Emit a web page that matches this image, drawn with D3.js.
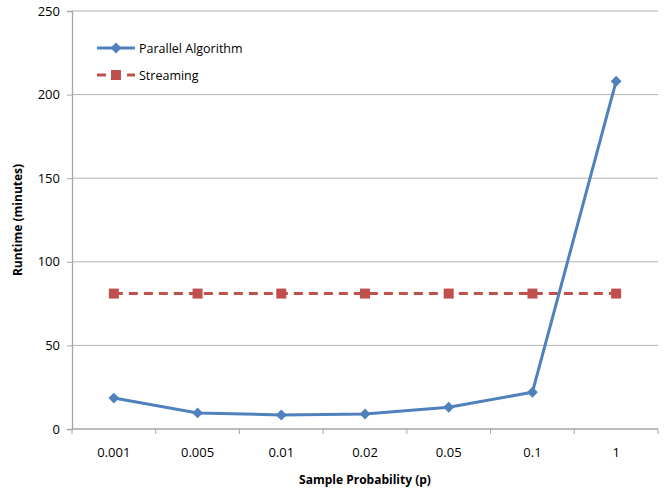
<!DOCTYPE html>
<html>
<head>
<meta charset="utf-8">
<script src="https://cdn.jsdelivr.net/npm/d3@7"></script>
<style>
  body { margin: 0; background: #fff; }
  text { font-family: "Open Sans", "Noto Sans", sans-serif; fill: #000; }
</style>
</head>
<body>
<div id="chart"></div>
<script>
const categories = ['0.001', '0.005', '0.01', '0.02', '0.05', '0.1', '1'];
const parallel = [18.5, 9.6, 8.4, 9, 13, 22, 208];
const streaming = [81, 81, 81, 81, 81, 81, 81];
const yTicks = [0, 50, 100, 150, 200, 250];

const width = 665;
const height = 492;
const margin = { top: 11, right: 7, bottom: 63, left: 72 };

const usableArea = {
  top: margin.top,
  right: width - margin.right,
  bottom: height - margin.bottom,
  left: margin.left,
};

const svg = d3
  .select('#chart')
  .append('svg')
  .attr('width', width)
  .attr('height', height);

const xScale = d3
  .scaleBand()
  .domain(categories)
  .range([usableArea.left, usableArea.right]);

const yScale = d3
  .scaleLinear()
  .domain([0, 250])
  .range([usableArea.bottom, usableArea.top]);

// gridlines
svg
  .append('g')
  .selectAll('line')
  .data(yTicks.filter((d) => d > 0))
  .join('line')
  .attr('x1', usableArea.left)
  .attr('x2', usableArea.right)
  .attr('y1', (d) => yScale(d))
  .attr('y2', (d) => yScale(d))
  .attr('stroke', '#b3b3b3')
  .attr('stroke-width', 1);

// y axis
const yAxis = svg
  .append('g')
  .attr('transform', `translate(${usableArea.left}, 0)`)
  .call(d3.axisLeft(yScale).tickValues(yTicks).tickSize(5).tickPadding(7));
yAxis.select('.domain').attr('stroke', '#a6a6a6').attr('stroke-width', 1.3);
yAxis.selectAll('.tick line').attr('stroke', '#a6a6a6');
yAxis.selectAll('text').attr('font-size', 13).style('fill', '#000');

// x axis with ticks at category boundaries
const xAxisG = svg.append('g');
xAxisG
  .append('line')
  .attr('x1', usableArea.left)
  .attr('x2', usableArea.right)
  .attr('y1', usableArea.bottom)
  .attr('y2', usableArea.bottom)
  .attr('stroke', '#a6a6a6')
  .attr('stroke-width', 1.3);
const bounds = categories.map((c) => xScale(c)).concat([usableArea.right]);
xAxisG
  .selectAll('.tk')
  .data(bounds)
  .join('line')
  .attr('class', 'tk')
  .attr('x1', (d) => d)
  .attr('x2', (d) => d)
  .attr('y1', usableArea.bottom)
  .attr('y2', usableArea.bottom + 5)
  .attr('stroke', '#a6a6a6');
xAxisG
  .selectAll('.lbl')
  .data(categories)
  .join('text')
  .attr('class', 'lbl')
  .attr('x', (d) => xScale(d) + xScale.bandwidth() / 2)
  .attr('y', usableArea.bottom + 28)
  .attr('text-anchor', 'middle')
  .attr('font-size', 13)
  .text((d) => d);

// axis titles
svg
  .append('text')
  .attr('x', (usableArea.left + usableArea.right) / 2)
  .attr('y', 484)
  .attr('text-anchor', 'middle')
  .attr('font-size', 12)
  .attr('font-weight', 'bold')
  .text('Sample Probability (p)');

svg
  .append('text')
  .attr('transform', `translate(22, ${(usableArea.top + usableArea.bottom) / 2}) rotate(-90)`)
  .attr('text-anchor', 'middle')
  .attr('font-size', 12)
  .attr('font-weight', 'bold')
  .text('Runtime (minutes)');

const cx = (d, i) => xScale(categories[i]) + xScale.bandwidth() / 2;
const line = d3
  .line()
  .x((d, i) => cx(d, i))
  .y((d) => yScale(d));

// streaming
svg
  .append('path')
  .datum(streaming)
  .attr('d', line)
  .attr('fill', 'none')
  .attr('stroke', '#c0504d')
  .attr('stroke-width', 3)
  .attr('stroke-dasharray', '9,6');
svg
  .append('g')
  .selectAll('rect')
  .data(streaming)
  .join('rect')
  .attr('x', (d, i) => cx(d, i) - 5)
  .attr('y', (d) => yScale(d) - 5)
  .attr('width', 10)
  .attr('height', 10)
  .attr('fill', '#c0504d');

// parallel
svg
  .append('path')
  .datum(parallel)
  .attr('d', line)
  .attr('fill', 'none')
  .attr('stroke', '#4f81bd')
  .attr('stroke-width', 3);
const diamond = d3.symbol().type(d3.symbolDiamond2).size(75);
svg
  .append('g')
  .selectAll('path')
  .data(parallel)
  .join('path')
  .attr('d', diamond)
  .attr('transform', (d, i) => `translate(${cx(d, i)}, ${yScale(d)})`)
  .attr('fill', '#4f81bd');

// legend
const legend = svg.append('g');
legend
  .append('line')
  .attr('x1', 97).attr('x2', 135).attr('y1', 48).attr('y2', 48)
  .attr('stroke', '#4f81bd').attr('stroke-width', 3);
legend
  .append('path')
  .attr('d', diamond)
  .attr('transform', 'translate(116, 48)')
  .attr('fill', '#4f81bd');
legend
  .append('text')
  .attr('x', 139).attr('y', 52.5)
  .attr('font-size', 12.5)
  .text('Parallel Algorithm');

legend
  .append('line')
  .attr('x1', 97).attr('x2', 135).attr('y1', 75).attr('y2', 75)
  .attr('stroke', '#c0504d').attr('stroke-width', 3)
  .attr('stroke-dasharray', '9,6');
legend
  .append('rect')
  .attr('x', 111).attr('y', 70).attr('width', 10).attr('height', 10)
  .attr('fill', '#c0504d');
legend
  .append('text')
  .attr('x', 139).attr('y', 79.5)
  .attr('font-size', 12.5)
  .text('Streaming');
</script>
</body>
</html>
